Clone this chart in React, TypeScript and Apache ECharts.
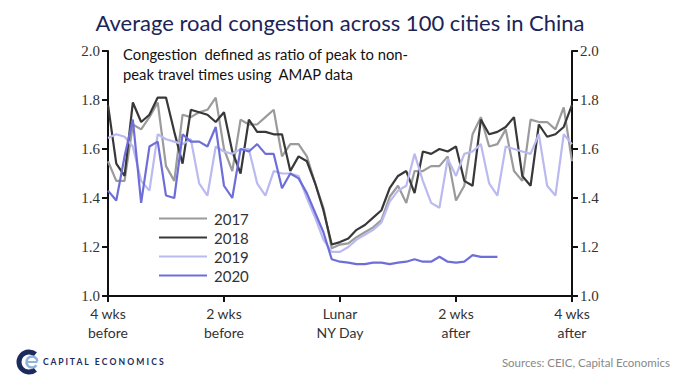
import React, { useEffect, useRef } from "react";
import * as echarts from "echarts";

const days = [
  -28, -27, -26, -25, -24, -23, -22, -21, -20, -19, -18, -17, -16, -15, -14,
  -13, -12, -11, -10, -9, -8, -7, -6, -5, -4, -3, -2, -1, 0, 1, 2, 3, 4, 5, 6,
  7, 8, 9, 10, 11, 12, 13, 14, 15, 16, 17, 18, 19, 20, 21, 22, 23, 24, 25, 26,
  27, 28,
];

const tickLabels: Record<number, string> = {
  [-28]: "4 wks\nbefore",
  [-14]: "2 wks\nbefore",
  0: "Lunar\nNY Day",
  14: "2 wks\nafter",
  28: "4 wks\nafter",
};

const y2017 = [
  1.55, 1.47, 1.47, 1.7, 1.68, 1.73, 1.79, 1.53, 1.47, 1.74, 1.73, 1.75, 1.76,
  1.81, 1.6, 1.51, 1.72, 1.7, 1.7, 1.73, 1.76, 1.57, 1.62, 1.62, 1.57, 1.46,
  1.36, 1.195, 1.21, 1.215, 1.24, 1.26, 1.28, 1.31, 1.405, 1.45, 1.38, 1.51,
  1.51, 1.53, 1.53, 1.57, 1.39, 1.45, 1.66, 1.73, 1.61, 1.62, 1.68, 1.51, 1.47,
  1.72, 1.71, 1.71, 1.68, 1.77, 1.55,
];

const y2018 = [
  1.78, 1.54, 1.49, 1.79, 1.71, 1.74, 1.81, 1.81, 1.67, 1.54, 1.76, 1.75, 1.74,
  1.71, 1.75, 1.59, 1.5, 1.72, 1.67, 1.67, 1.66, 1.66, 1.51, 1.57, 1.55, 1.46,
  1.35, 1.21, 1.22, 1.235, 1.27, 1.29, 1.32, 1.35, 1.44, 1.49, 1.51, 1.42,
  1.59, 1.58, 1.6, 1.59, 1.61, 1.47, 1.45, 1.72, 1.66, 1.67, 1.69, 1.73, 1.49,
  1.45, 1.7, 1.65, 1.66, 1.69, 1.78,
];

const y2019 = [
  1.645, 1.66, 1.65, 1.61, 1.47, 1.43, 1.66, 1.64, 1.63, 1.62, 1.64, 1.46, 1.41,
  1.61, 1.59, 1.58, 1.6, 1.6, 1.46, 1.41, 1.51, 1.5, 1.5, 1.49, 1.4, 1.32, 1.23,
  1.18, 1.18, 1.2, 1.23, 1.25, 1.27, 1.3, 1.385, 1.43, 1.45, 1.58, 1.47, 1.38,
  1.36, 1.56, 1.49, 1.58, 1.59, 1.62, 1.46, 1.41, 1.61, 1.6, 1.59, 1.58, 1.66,
  1.45, 1.41, 1.66, 1.62,
];

const y2020 = [
  1.43, 1.39, 1.57, 1.72, 1.38, 1.61, 1.63, 1.41, 1.4, 1.66, 1.63, 1.63, 1.61,
  1.69, 1.45, 1.4, 1.6, 1.59, 1.62, 1.58, 1.58, 1.44, 1.5, 1.48, 1.42, 1.34,
  1.26, 1.15, 1.14, 1.136, 1.13, 1.13, 1.136, 1.136, 1.13, 1.136, 1.14, 1.15,
  1.14, 1.14, 1.16, 1.14, 1.136, 1.14, 1.167, 1.16, 1.16, 1.16,
];

const seriesDefs = [
  { name: "2017", data: y2017, color: "#9b9b9b" },
  { name: "2018", data: y2018, color: "#383838" },
  { name: "2019", data: y2019, color: "#babaf0" },
  { name: "2020", data: y2020, color: "#6e6ed9" },
];

const brand = "CAPITAL ECONOMICS";

export default function App() {
  const ref = useRef<HTMLDivElement>(null);

  useEffect(() => {
    if (!ref.current) return;
    const chart = echarts.init(ref.current, undefined, { renderer: "svg" });
    const sans = "Lato, 'Open Sans', sans-serif";
    const serif = "'Liberation Serif', 'DejaVu Serif', serif";

    const yAxisBase = {
      type: "value" as const,
      min: 1,
      max: 2,
      interval: 0.2,
      splitLine: { show: false },
      axisLine: { show: true, lineStyle: { color: "#111", width: 2 } },
      axisTick: { show: true, length: 6, lineStyle: { color: "#111", width: 2 } },
      axisLabel: {
        color: "#333",
        fontFamily: serif,
        fontSize: 15,
        margin: 8,
        formatter: (v: number) => v.toFixed(1),
      },
    };

    const nb = "\u00a0";
    const spacedBrand = brand
      .split(" ")
      .map((w) => w.split("").join(nb))
      .join(nb + nb + nb);

    chart.setOption({
      animation: false,
      backgroundColor: "#ffffff",
      title: {
        text: "Average road congestion across 100 cities in China",
        left: "center",
        top: 6,
        textStyle: {
          color: "#1c2456",
          fontFamily: sans,
          fontSize: 22,
          fontWeight: "normal",
        },
      },
      legend: {
        orient: "vertical",
        left: 154,
        top: 205,
        itemWidth: 48,
        itemHeight: 2,
        itemGap: 2,
        icon: "rect",
        textStyle: {
          color: "#333",
          fontFamily: sans,
          fontSize: 15,
          lineHeight: 17,
          padding: [0, 0, 0, 2],
        },
        data: seriesDefs.map((s) => s.name),
      },
      grid: { left: 108, right: 108, top: 51, bottom: 91, containLabel: false },
      xAxis: {
        type: "category",
        data: days,
        boundaryGap: false,
        axisLine: { show: true, lineStyle: { color: "#111", width: 2 } },
        axisTick: {
          show: true,
          length: 6,
          interval: (i: number) => i % 14 === 0,
          lineStyle: { color: "#111", width: 2 },
        },
        axisLabel: {
          interval: (i: number) => i % 14 === 0,
          color: "#333",
          fontFamily: sans,
          fontSize: 14,
          lineHeight: 19,
          margin: 8,
          formatter: (v: string) => tickLabels[Number(v)] ?? "",
        },
        splitLine: { show: false },
      },
      yAxis: [
        { ...yAxisBase, position: "left" },
        { ...yAxisBase, position: "right" },
      ],
      series: seriesDefs.map((s) => ({
        name: s.name,
        type: "line",
        data: s.data,
        yAxisIndex: 0,
        symbol: "none",
        color: s.color,
        lineStyle: { color: s.color, width: 2.2 },
        itemStyle: { color: s.color },
      })),
      graphic: [
        {
          type: "text",
          left: 123,
          top: 44,
          style: {
            text: "Congestion  defined as ratio of peak to non-\npeak travel times using  AMAP data",
            fill: "#111",
            font: `14.8px ${sans}`,
            lineHeight: 20,
          },
        },
        {
          type: "arc",
          shape: { cx: 29, cy: 362, r: 10, startAngle: Math.PI * 0.28, endAngle: Math.PI * 1.72 },
          style: { stroke: "#1c2b5e", lineWidth: 5, fill: "none" },
        },
        {
          type: "arc",
          shape: { cx: 32, cy: 362, r: 5.5, startAngle: Math.PI * 0.2, endAngle: Math.PI * 1.95 },
          style: { stroke: "#8fb3d9", lineWidth: 2.5, fill: "none" },
        },
        {
          type: "line",
          shape: { x1: 27, y1: 362, x2: 37.5, y2: 362 },
          style: { stroke: "#8fb3d9", lineWidth: 2 },
        },
        {
          type: "text",
          left: 43,
          top: 357.5,
          style: {
            text: spacedBrand,
            fill: "#1c2b5e",
            font: `bold 8.6px ${sans}`,
          },
        },
        {
          type: "text",
          right: 10,
          top: 356,
          style: {
            text: "Sources: CEIC, Capital Economics",
            fill: "#888",
            font: `11.5px ${sans}`,
          },
        },
      ],
    });

    return () => chart.dispose();
  }, []);

  return (
    <div
      ref={ref}
      style={{ position: "fixed", left: 0, top: 0, width: 680, height: 387, background: "#fff" }}
    />
  );
}
